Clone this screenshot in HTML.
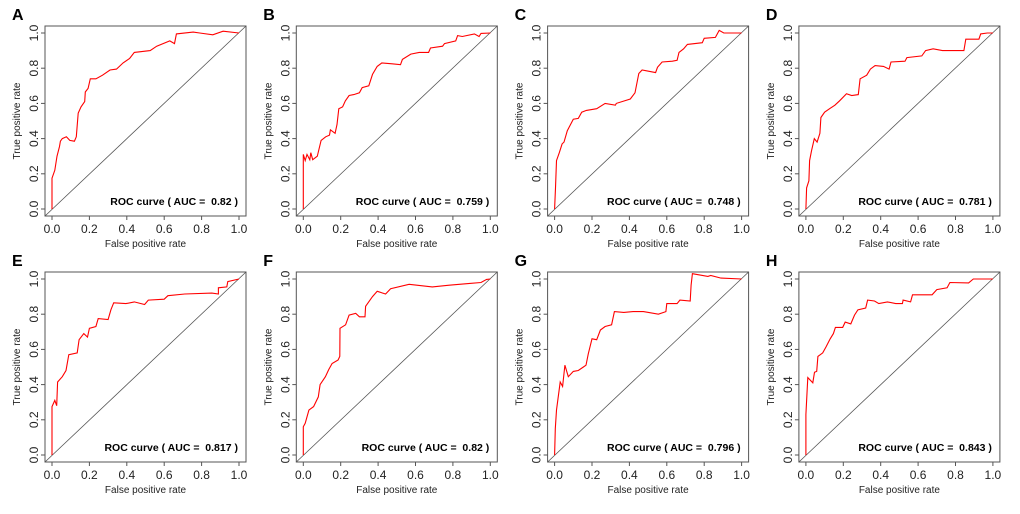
<!DOCTYPE html>
<html><head><meta charset="utf-8">
<style>
html,body{margin:0;padding:0;background:#fff;}
svg{display:block;font-family:"Liberation Sans",Arial,sans-serif;}
</style></head>
<body>
<svg id="fig" width="1020" height="514" viewBox="0 0 1020 514" xmlns="http://www.w3.org/2000/svg"></svg>
<script>
const panelLetters = ["A","B","C","D","E","F","G","H"];
const aucLabels = ["0.82","0.759","0.748","0.781","0.817","0.82","0.796","0.843"];
const tickValues = [0,0.2,0.4,0.6,0.8,1.0];
const tickLabels = ["0.0","0.2","0.4","0.6","0.8","1.0"];
const fprA = [0,0,0.015,0.027,0.04,0.045,0.055,0.077,0.095,0.12,0.13,0.14,0.155,0.175,0.178,0.193,0.205,0.235,0.27,0.31,0.345,0.38,0.415,0.44,0.525,0.56,0.63,0.655,0.665,0.755,0.79,0.86,0.915,1];
const tprA = [0,0.175,0.22,0.30,0.355,0.385,0.40,0.41,0.39,0.385,0.41,0.545,0.58,0.61,0.665,0.685,0.74,0.74,0.76,0.79,0.795,0.83,0.855,0.89,0.9,0.925,0.955,0.94,0.995,1.005,1.0,0.99,1.01,1];
const fprB = [0,0,0.01,0.02,0.035,0.04,0.05,0.075,0.095,0.12,0.14,0.145,0.17,0.18,0.19,0.21,0.225,0.245,0.27,0.3,0.315,0.35,0.37,0.395,0.42,0.475,0.52,0.53,0.575,0.62,0.67,0.68,0.745,0.755,0.815,0.825,0.85,0.915,0.94,0.95,1];
const tprB = [0,0.31,0.275,0.31,0.28,0.32,0.28,0.3,0.39,0.41,0.42,0.45,0.43,0.48,0.57,0.58,0.615,0.645,0.65,0.66,0.69,0.7,0.765,0.81,0.83,0.825,0.82,0.85,0.88,0.89,0.89,0.915,0.925,0.94,0.955,0.985,0.98,0.995,0.98,0.998,1];
const fprC = [0,0.005,0.01,0.025,0.04,0.05,0.068,0.1,0.127,0.145,0.17,0.225,0.27,0.325,0.33,0.405,0.43,0.45,0.468,0.54,0.55,0.575,0.63,0.655,0.665,0.69,0.71,0.79,0.8,0.86,0.88,0.905,1];
const tprC = [0,0.12,0.275,0.32,0.37,0.38,0.445,0.51,0.515,0.55,0.56,0.57,0.6,0.59,0.6,0.625,0.66,0.77,0.79,0.775,0.805,0.835,0.84,0.845,0.89,0.91,0.935,0.945,0.97,0.975,1.015,1.0,1];
const fprD = [0,0.004,0.016,0.02,0.03,0.045,0.06,0.075,0.08,0.1,0.127,0.155,0.18,0.217,0.245,0.28,0.29,0.325,0.345,0.37,0.415,0.445,0.455,0.53,0.54,0.62,0.64,0.68,0.73,0.845,0.855,0.925,0.935,0.97,1];
const tprD = [0,0.12,0.16,0.275,0.33,0.4,0.38,0.43,0.52,0.55,0.57,0.59,0.615,0.655,0.645,0.65,0.74,0.76,0.795,0.815,0.81,0.795,0.835,0.84,0.86,0.87,0.9,0.91,0.9,0.9,0.965,0.965,0.995,1.0,1];
const fprE = [0,0,0.015,0.025,0.03,0.055,0.075,0.09,0.135,0.145,0.17,0.19,0.2,0.235,0.247,0.3,0.315,0.33,0.395,0.44,0.495,0.515,0.6,0.62,0.71,0.855,0.89,0.89,0.935,0.94,1];
const tprE = [0,0.275,0.31,0.28,0.415,0.445,0.48,0.57,0.58,0.655,0.69,0.67,0.72,0.73,0.775,0.77,0.825,0.865,0.86,0.87,0.855,0.88,0.885,0.905,0.915,0.92,0.915,0.95,0.955,0.985,1];
const fprF = [0,0,0.01,0.03,0.055,0.08,0.09,0.118,0.136,0.154,0.186,0.195,0.196,0.226,0.245,0.28,0.3,0.33,0.333,0.37,0.395,0.44,0.467,0.566,0.69,0.78,0.89,0.95,0.98,1];
const tprF = [0,0.16,0.18,0.255,0.275,0.33,0.4,0.445,0.485,0.52,0.54,0.56,0.72,0.74,0.795,0.805,0.785,0.785,0.845,0.9,0.93,0.915,0.945,0.97,0.955,0.965,0.975,0.98,0.998,1];
const fprG = [0,0.004,0.01,0.03,0.043,0.055,0.073,0.1,0.127,0.154,0.168,0.18,0.2,0.225,0.245,0.27,0.305,0.32,0.37,0.42,0.475,0.555,0.595,0.6,0.655,0.67,0.725,0.73,0.737,0.82,0.835,0.89,1];
const tprG = [0,0.15,0.255,0.415,0.39,0.51,0.445,0.475,0.48,0.5,0.51,0.575,0.66,0.655,0.71,0.73,0.74,0.815,0.81,0.815,0.815,0.8,0.815,0.86,0.86,0.88,0.875,0.965,1.03,1.015,1.02,1.005,1];
const fprH = [0,0,0.01,0.037,0.046,0.058,0.064,0.09,0.108,0.13,0.147,0.158,0.197,0.21,0.24,0.26,0.278,0.32,0.33,0.367,0.39,0.436,0.48,0.516,0.52,0.56,0.57,0.675,0.7,0.755,0.77,0.87,0.895,1];
const tprH = [0,0.23,0.44,0.41,0.47,0.475,0.56,0.58,0.615,0.66,0.69,0.725,0.725,0.755,0.745,0.795,0.825,0.835,0.88,0.875,0.86,0.87,0.86,0.86,0.88,0.87,0.91,0.91,0.94,0.95,0.98,0.978,1.0,1];
const fprAll = [fprA,fprB,fprC,fprD,fprE,fprF,fprG,fprH];
const tprAll = [tprA,tprB,tprC,tprD,tprE,tprF,tprG,tprH];

const NS = "http://www.w3.org/2000/svg";
const svg = document.getElementById("fig");
function mk(tag, attrs, parent, text){
  const e = document.createElementNS(NS, tag);
  for (const k in attrs) e.setAttribute(k, attrs[k]);
  if (text !== undefined) e.textContent = text;
  parent.appendChild(e);
  return e;
}
for (let i = 0; i < 8; i++) {
  const c = i % 4, r = Math.floor(i / 4);
  const L = 45 + c * 251.3, T = 26 + r * 246, W = 201, H = 190;
  const sx = v => L + 7 + v * 187;
  const sy = v => T + 183 - v * 176;
  const g = mk("g", {}, svg);
  
  
  const letter = mk("text", {x: L - 33, y: T - 6, "font-size": 16, "font-weight": "bold", fill: "#000"}, g, panelLetters[i]);
  
  
  const box = mk("rect", {x: L, y: T, width: W, height: H, fill: "none", stroke: "#555", "stroke-width": 1}, g);
  
  
  for (let t = 0; t < tickValues.length; t++) {
    const v = tickValues[t];
    const xt = mk("line", {x1: sx(v), x2: sx(v), y1: T + H, y2: T + H + 4, stroke: "#555"}, g);
    
    
    const xl = mk("text", {x: sx(v), y: T + H + 17, "font-size": 12, "text-anchor": "middle", fill: "#222"}, g, tickLabels[t]);
    
    
    const yt = mk("line", {x1: L - 4, x2: L, y1: sy(v), y2: sy(v), stroke: "#555"}, g);
    
    
    const yx = L - 7, yy = sy(v);
    const yl = mk("text", {x: yx, y: yy, "font-size": 12, "text-anchor": "middle", fill: "#222", transform: `rotate(-90 ${yx} ${yy})`}, g, tickLabels[t]);
    
    
  }
  const xt = mk("text", {x: L + W / 2, y: T + H + 31, "font-size": 10, "text-anchor": "middle", fill: "#222"}, g, "False positive rate");
  
  
  const ytx = L - 25, yty = T + H / 2;
  const yt = mk("text", {x: ytx, y: yty, "font-size": 10, "text-anchor": "middle", fill: "#222", transform: `rotate(-90 ${ytx} ${yty})`}, g, "True positive rate");
  
  
  const diag = mk("line", {x1: sx(0) - 7, y1: sy(0) + 7, x2: sx(1) + 7, y2: sy(1) - 7, stroke: "#555", "stroke-width": 0.8}, g);
  
  
  const fx = fprAll[i], ty = tprAll[i];
  const pts = fx.map((v, k) => sx(v).toFixed(1) + "," + sy(ty[k]).toFixed(1)).join(" ");
  const curve = mk("polyline", {points: pts, fill: "none", stroke: "#ff0000", "stroke-width": 1.1}, g);
  
  
  const auc = mk("text", {x: L + W - 8, y: T + H - 11, "font-size": 10.5, "font-weight": "bold", "text-anchor": "end", fill: "#000", style: "white-space:pre"}, g, "ROC curve ( AUC =  " + aucLabels[i] + " )");
  
  
}
</script>
</body></html>
